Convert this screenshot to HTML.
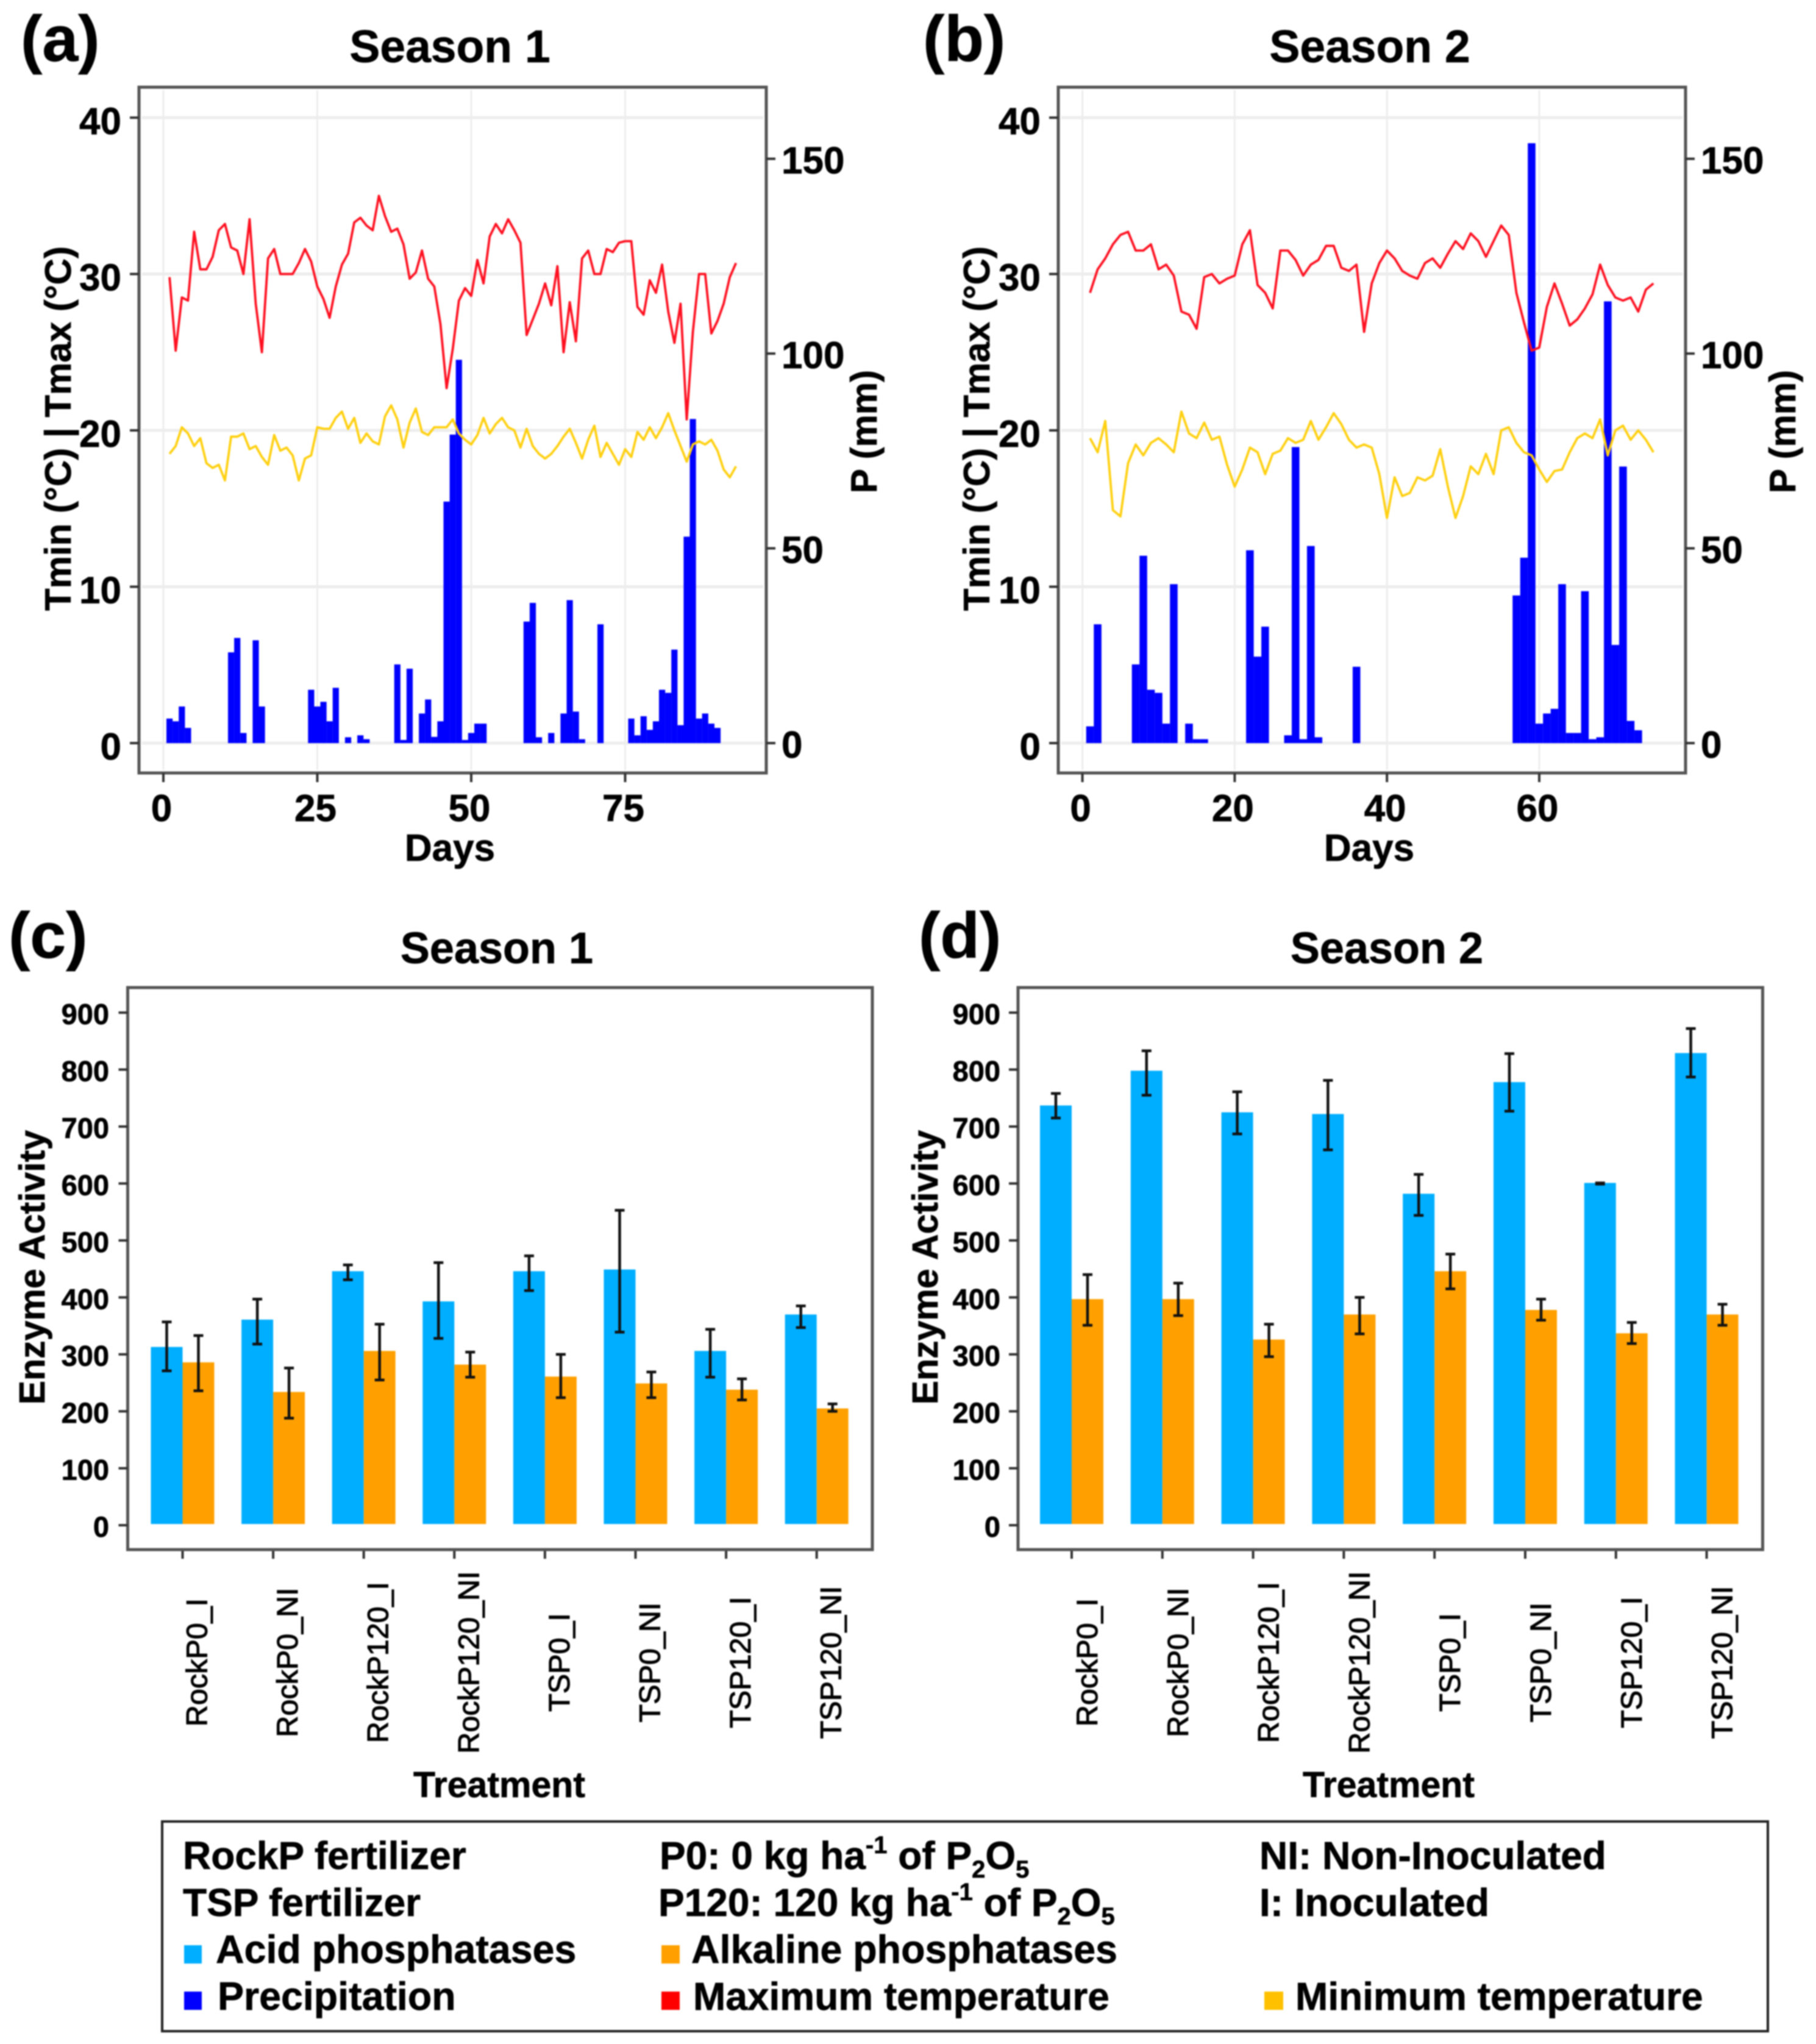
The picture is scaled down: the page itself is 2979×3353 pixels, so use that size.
<!DOCTYPE html>
<html lang="en">
<head>
<meta charset="utf-8">
<title>Weather and enzyme activity, seasons 1 and 2</title>
<style>
html,body{margin:0;padding:0;background:#fff;}
svg{display:block;filter:blur(1px);}
text{font-family:"Liberation Sans",Arial,sans-serif;fill:#000;white-space:pre;}
.b,text[font-weight="700"]{font-weight:700;stroke:#000;stroke-width:0.7px;}
</style>
</head>
<body>
<svg id="figure" xmlns="http://www.w3.org/2000/svg" width="2979" height="3353" viewBox="0 0 2979 3353">
  <rect x="0" y="0" width="2979" height="3353" fill="#fff"/>

  <text class="b" x="34" y="100" font-size="106">(a)</text>
  <text class="b" x="738" y="102" font-size="75" text-anchor="middle">Season 1</text>
  <text class="b" x="738" y="1412" font-size="62" text-anchor="middle">Days</text>
  <text class="b" x="116" y="703" font-size="60" text-anchor="middle" transform="rotate(-90 116 703)">Tmin (°C) | Tmax (°C)</text>
  <text class="b" x="1438" y="708" font-size="60" text-anchor="middle" transform="rotate(-90 1438 708)">P (mm)</text>

  <text class="b" x="1514" y="100" font-size="106">(b)</text>
  <text class="b" x="2247" y="102" font-size="75" text-anchor="middle">Season 2</text>
  <text class="b" x="2246" y="1412" font-size="62" text-anchor="middle">Days</text>
  <text class="b" x="1623" y="703" font-size="60" text-anchor="middle" transform="rotate(-90 1623 703)">Tmin (°C) | Tmax (°C)</text>
  <text class="b" x="2945" y="708" font-size="60" text-anchor="middle" transform="rotate(-90 2945 708)">P (mm)</text>

  <text class="b" x="14" y="1571" font-size="106">(c)</text>
  <text class="b" x="815" y="1580" font-size="72" text-anchor="middle">Season 1</text>
  <text class="b" x="819" y="2948" font-size="59" text-anchor="middle">Treatment</text>
  <text class="b" x="73" y="2079" font-size="59" text-anchor="middle" transform="rotate(-90 73 2079)">Enzyme Activity</text>

  <text class="b" x="1507" y="1571" font-size="106">(d)</text>
  <text class="b" x="2275" y="1580" font-size="72" text-anchor="middle">Season 2</text>
  <text class="b" x="2278" y="2948" font-size="59" text-anchor="middle">Treatment</text>
  <text class="b" x="1538" y="2079" font-size="59" text-anchor="middle" transform="rotate(-90 1538 2079)">Enzyme Activity</text>

  <g id="panel-a"></g>
  <g id="panel-b"></g>
  <g id="panel-c"></g>
  <g id="panel-d"></g>

  <g>
    <rect x="266" y="2988" width="2634" height="344" fill="none" stroke="#222" stroke-width="4"/>
    <text class="b" x="300" y="3066" font-size="64">RockP fertilizer</text>
    <text class="b" x="300" y="3143" font-size="64">TSP fertilizer</text>
    <text class="b" x="1082" y="3066" font-size="64">P0: 0 kg ha<tspan font-size="40" dy="-26">-1</tspan><tspan dy="26"> of P</tspan><tspan font-size="40" dy="14">2</tspan><tspan dy="-14">O</tspan><tspan font-size="40" dy="14">5</tspan></text>
    <text class="b" x="1080" y="3143" font-size="64">P120: 120 kg ha<tspan font-size="40" dy="-26">-1</tspan><tspan dy="26"> of P</tspan><tspan font-size="40" dy="14">2</tspan><tspan dy="-14">O</tspan><tspan font-size="40" dy="14">5</tspan></text>
    <text class="b" x="2066" y="3066" font-size="64">NI: Non-Inoculated</text>
    <text class="b" x="2066" y="3143" font-size="64">I: Inoculated</text>
    <rect x="302" y="3191" width="29" height="30" fill="#00AEFF"/>
    <text class="b" x="354" y="3220" font-size="64.5">Acid phosphatases</text>
    <rect x="1085" y="3191" width="30" height="30" fill="#FFA000"/>
    <text class="b" x="1134" y="3220" font-size="64.5">Alkaline phosphatases</text>
    <rect x="302" y="3267" width="29" height="30" fill="#0000FF"/>
    <text class="b" x="357" y="3297" font-size="64.5">Precipitation</text>
    <rect x="1085" y="3267" width="30" height="30" fill="#FF0000"/>
    <text class="b" x="1137" y="3297" font-size="64">Maximum temperature</text>
    <rect x="2074" y="3267" width="31" height="30" fill="#FFC000"/>
    <text class="b" x="2125" y="3297" font-size="64">Minimum temperature</text>
  </g>
</svg>

<script>
// ---- Panel (a) data: Season 1 weather ----
const tmaxSeason1 = [29.8,25.1,28.5,28.3,32.7,30.3,30.3,31.1,32.8,33.2,31.7,31.5,30,33.5,28.1,25,31,31.6,30,30,30,30.7,31.6,30.8,29.2,28.4,27.2,29.2,30.6,31.3,33.3,33.6,33.1,32.8,35,33.7,32.7,32.9,31.9,29.7,30.1,31.5,29.7,29.2,26.8,22.7,25.2,28.3,29.1,28.6,30.9,29.4,32.4,33.2,32.6,33.5,32.8,32,26.1,27.1,28.1,29.4,28,30.5,25,28.2,25.7,31,31.5,30,30,31.6,31.4,32,32.1,32.1,27.9,27.4,29.6,28.8,30.6,27.6,25.6,28.1,20.7,26.3,30,30,26.2,27,28.1,29.8,30.7];
const tminSeason1 = [18.5,19,20.2,19.8,19,19.5,17.9,17.6,17.8,16.8,19.6,19.6,19.8,18.8,19,18.3,17.8,19.7,18.7,18.9,18.4,16.8,18.2,18.4,20.2,20.1,20.1,20.8,21.2,20.1,20.8,19.2,19.8,19.3,19.1,20.9,21.6,20.7,18.9,20.5,21.4,19.9,19.7,20.2,20.2,20.2,20.7,19.8,19.4,19.1,19.7,20.8,19.8,20.4,20.8,20.2,20,18.9,20.1,19,18.5,18.2,18.5,19,19.6,20.1,19.2,18.2,19.4,20.3,18.3,19.2,18.5,17.8,18.8,18.3,19.9,19.4,20.2,19.5,20.2,21.1,20,19,18,19.1,19.3,19.1,19.4,18.7,17.5,17,17.7];
const rainDaysSeason1 = [1,2,3,4,11,12,13,15,16,24,25,26,27,28,30,32,33,38,39,40,42,43,44,45,46,47,48,49,50,51,52,59,60,61,63,65,66,67,68,71,76,77,78,79,80,81,82,83,84,85,86,87,88,89,90];
const rainSeason1 = [6.3,5.6,9.4,3.9,23.3,27,2.6,26.4,9.4,13.7,9.4,10.6,5.6,14.2,1.5,2,1,20.2,0.8,19.1,7.6,11.2,1.6,5.6,62,79.2,98.4,0.8,2.6,5,5,31.2,36,1.5,2.6,7.6,36.7,8.1,1,30.5,6.3,2,6.9,3.4,5.6,13.7,12.9,24,4.6,53,83.2,6.3,7.6,5,3.9];

// ---- Panel (b) data: Season 2 weather ----
const tmaxSeason2 = [28.8,30.3,31,31.9,32.5,32.7,31.5,31.5,31.9,30.3,30.6,29.9,27.6,27.4,26.5,29.8,30,29.4,29.7,29.9,31.9,32.8,29.3,28.8,27.8,31.5,31.5,30.9,29.9,30.6,30.9,31.8,31.8,30.4,30.2,30.6,26.3,29.4,30.7,31.5,31,30.2,29.9,29.7,30.7,31,30.4,31.3,32.1,31.6,32.6,32.1,31.1,32.1,33.1,32.5,28.8,26.9,25.1,25.3,27.9,29.4,28.1,26.7,27.1,27.8,28.7,30.6,29.3,28.5,28.3,28.5,27.6,29,29.4];
const tminSeason2 = [19.5,18.6,20.6,14.9,14.5,17.9,19.1,18.4,19.2,19.5,19.1,18.6,21.2,19.8,19.5,20.5,19.4,19.6,17.8,16.4,17.5,18.9,18.6,17.2,18.5,18.7,19.5,19.2,19.4,20.6,19.4,20.2,21.1,20.4,19.4,18.9,19.1,18.9,17.2,14.4,17,15.8,16,17,16.8,17.1,18.8,16.4,14.4,15.8,17.7,17.2,18.5,17.2,20,20.2,19.2,18.6,18.4,17.5,16.7,17.4,17.5,18.6,19.5,19.8,19.5,20.7,18.4,20,20.3,19.4,20,19.4,18.6];
const rainDaysSeason2 = [1,2,7,8,9,10,11,12,14,15,16,22,23,24,27,28,29,30,31,36,57,58,59,60,61,62,63,64,65,66,67,68,69,70,71,72,73];
const rainSeason2 = [4.3,30.5,20.2,48.1,13.7,12.9,5,40.8,5,1,1,49.5,22.2,29.9,2,76,1,50.6,1.5,19.6,37.9,47.6,154,5,7.6,8.8,40.8,2.6,2.6,39,1,1.5,113.4,25.2,71,5.7,3.3];

// ---- Axis tick values, panels (a) and (b) ----
const tempTicks = [0,10,20,30,40];
const rainTicks = [0,50,100,150];
const dayTicksSeason1 = [0,25,50,75];
const dayTicksSeason2 = [0,20,40,60];

// ---- Panels (c) and (d) data: enzyme activity ----
const treatments = ['RockP0_I','RockP0_NI','RockP120_I','RockP120_NI','TSP0_I','TSP0_NI','TSP120_I','TSP120_NI'];
const enzymeTicks = [0,100,200,300,400,500,600,700,800,900];

const acidSeason1 = [313,361,446,393,446,449,306,370];
const acidHighSeason1 = [357,397,457,461,473,553,344,385];
const acidLowSeason1 = [271,318,431,328,412,339,260,347];
const alkalineSeason1 = [286,234,306,282,261,249,238,205];
const alkalineHighSeason1 = [333,276,353,304,300,269,257,213];
const alkalineLowSeason1 = [236,188,255,260,224,224,220,200];

const acidSeason2 = [737,798,725,722,582,778,601,829];
const acidHighSeason2 = [758,833,761,781,616,828,601,872];
const acidLowSeason2 = [715,755,687,659,544,727,599,787];
const alkalineSeason2 = [397,397,326,370,446,378,337,370];
const alkalineHighSeason2 = [440,425,353,400,476,397,356,388];
const alkalineLowSeason2 = [351,368,296,336,415,360,319,351];

const SVGNS = 'http://www.w3.org/2000/svg';
function mk(parent, tag, attrs, txt) {
  const el = document.createElementNS(SVGNS, tag);
  for (const k in attrs) el.setAttribute(k, attrs[k]);
  if (txt !== undefined) el.textContent = txt;
  parent.appendChild(el);
  return el;
}

function drawWeatherPanel(g, frame, xAt, tempAt, rainAt, barW, dayTicks, tmax, tmin, rainDays, rain, leftLabelX, rightLabelX) {
  // gridlines
  tempTicks.forEach(function (t) {
    const gl = mk(g, 'line', {x1: frame.l + 5, x2: frame.r - 5, y1: tempAt(t), y2: tempAt(t), stroke: '#EDEDED', 'stroke-width': 5});
    
    
  });
  dayTicks.forEach(function (d) {
    const gl = mk(g, 'line', {x1: xAt(d), x2: xAt(d), y1: frame.t + 5, y2: frame.b - 5, stroke: '#EDEDED', 'stroke-width': 3});
    
    
  });
  // precipitation bars
  rainDays.forEach(function (d, i) {
    const bar = mk(g, 'rect', {x: xAt(d) - barW / 2, y: rainAt(rain[i]), width: barW, height: rainAt(0) - rainAt(rain[i]), fill: '#0000FF'});
    
    
  });
  // temperature lines
  const maxLine = mk(g, 'polyline', {points: tmax.map(function (v, i) { return xAt(i + 1).toFixed(1) + ',' + tempAt(v).toFixed(1); }).join(' '), fill: 'none', stroke: '#FF1020', 'stroke-width': 3.8, 'stroke-linejoin': 'round'});
  
  
  const minLine = mk(g, 'polyline', {points: tmin.map(function (v, i) { return xAt(i + 1).toFixed(1) + ',' + tempAt(v).toFixed(1); }).join(' '), fill: 'none', stroke: '#FFD010', 'stroke-width': 3.8, 'stroke-linejoin': 'round'});
  
  
  // frame
  const box = mk(g, 'rect', {x: frame.l, y: frame.t, width: frame.r - frame.l, height: frame.b - frame.t, fill: 'none', stroke: '#555', 'stroke-width': 5});
  
  
  // left axis
  tempTicks.forEach(function (t) {
    const tick = mk(g, 'line', {x1: frame.l - 15, x2: frame.l, y1: tempAt(t), y2: tempAt(t), stroke: '#333', 'stroke-width': 4});
    
    
    const lab = mk(g, 'text', {x: leftLabelX, y: tempAt(t) + 27, 'font-size': 62, 'font-weight': 700, 'text-anchor': 'end'}, String(t));
    
    
  });
  // right axis
  rainTicks.forEach(function (p) {
    const tick = mk(g, 'line', {x1: frame.r, x2: frame.r + 15, y1: rainAt(p), y2: rainAt(p), stroke: '#333', 'stroke-width': 4});
    
    
    const lab = mk(g, 'text', {x: rightLabelX, y: rainAt(p) + 24, 'font-size': 62, 'font-weight': 700}, String(p));
    
    
  });
  // bottom axis
  dayTicks.forEach(function (d) {
    const tick = mk(g, 'line', {x1: xAt(d), x2: xAt(d), y1: frame.b, y2: frame.b + 15, stroke: '#333', 'stroke-width': 4});
    
    
    const lab = mk(g, 'text', {x: xAt(d) - 3, y: 1347, 'font-size': 62, 'font-weight': 700, 'text-anchor': 'middle'}, String(d));
    
    
  });
}

function drawEnzymePanel(g, frame, firstTick, step, labelRight, labelOffset, acid, acidHigh, acidLow, alkaline, alkalineHigh, alkalineLow) {
  const yAt = function (v) { return 2502 - v * 0.9343; };
  const barW = 52;
  const bandAt = function (i) { return firstTick + i * step; };
  const baseY = yAt(0) - 2;
  treatments.forEach(function (name, i) {
    const cx = bandAt(i);
    const acidBar = mk(g, 'rect', {x: cx - barW, y: yAt(acid[i]), width: barW, height: baseY - yAt(acid[i]), fill: '#00AEFF'});
    
    
    const alkBar = mk(g, 'rect', {x: cx, y: yAt(alkaline[i]), width: barW, height: baseY - yAt(alkaline[i]), fill: '#FFA000'});
    
    
    [[cx - barW / 2, acidHigh[i], acidLow[i]], [cx + barW / 2, alkalineHigh[i], alkalineLow[i]]].forEach(function (e) {
      const err = mk(g, 'path', {d: 'M' + (e[0] - 8) + ' ' + yAt(e[1]) + 'H' + (e[0] + 8) + 'M' + e[0] + ' ' + yAt(e[1]) + 'V' + yAt(e[2]) + 'M' + (e[0] - 8) + ' ' + yAt(e[2]) + 'H' + (e[0] + 8), fill: 'none', stroke: '#111', 'stroke-width': 4.5});
      
      
    });
    const tick = mk(g, 'line', {x1: cx, x2: cx, y1: frame.b, y2: frame.b + 15, stroke: '#333', 'stroke-width': 4});
    
    
    const lx = cx + labelOffset;
    const lab = mk(g, 'text', {x: lx, y: 2727, 'font-size': 48.5, 'text-anchor': 'middle', transform: 'rotate(-90 ' + lx + ' 2727)', stroke: '#000', 'stroke-width': 1.1}, name);
    
    
  });
  const box = mk(g, 'rect', {x: frame.l, y: frame.t, width: frame.r - frame.l, height: frame.b - frame.t, fill: 'none', stroke: '#555', 'stroke-width': 5});
  
  
  enzymeTicks.forEach(function (v) {
    const tick = mk(g, 'line', {x1: frame.l - 15, x2: frame.l, y1: yAt(v), y2: yAt(v), stroke: '#333', 'stroke-width': 4});
    
    
    const lab = mk(g, 'text', {x: labelRight, y: yAt(v) + 19, 'font-size': 47, 'font-weight': 700, 'text-anchor': 'end'}, String(v));
    
    
  });
}

const tempY = function (t) { return 1219 - 25.65 * t; };
const rainY = function (p) { return 1219 - 6.39 * p; };

drawWeatherPanel(document.getElementById('panel-a'),
  {l: 228, r: 1257, t: 143, b: 1268},
  function (d) { return 268 + 10.1 * d; }, tempY, rainY, 10.2,
  dayTicksSeason1, tmaxSeason1, tminSeason1, rainDaysSeason1, rainSeason1, 199, 1282);

drawWeatherPanel(document.getElementById('panel-b'),
  {l: 1736, r: 2765, t: 143, b: 1268},
  function (d) { return 1775.6 + 12.49 * d; }, tempY, rainY, 12.6,
  dayTicksSeason2, tmaxSeason2, tminSeason2, rainDaysSeason2, rainSeason2, 1707, 2790);

drawEnzymePanel(document.getElementById('panel-c'),
  {l: 209.5, r: 1431, t: 1620, b: 2542}, 299.5, 148.6, 179, 40,
  acidSeason1, acidHighSeason1, acidLowSeason1, alkalineSeason1, alkalineHighSeason1, alkalineLowSeason1);

drawEnzymePanel(document.getElementById('panel-d'),
  {l: 1670, r: 2891.5, t: 1620, b: 2542}, 1758, 148.8, 1641, 42,
  acidSeason2, acidHighSeason2, acidLowSeason2, alkalineSeason2, alkalineHighSeason2, alkalineLowSeason2);
</script>
</body>
</html>
